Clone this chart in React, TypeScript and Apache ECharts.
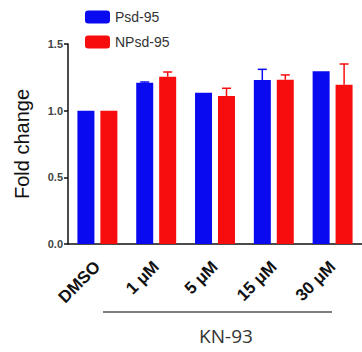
import React, { useEffect, useRef } from "react";
import * as echarts from "echarts";

const categories = ["DMSO", "1 μM", "5 μM", "15 μM", "30 μM"];
const psdValues = [1.0, 1.21, 1.135, 1.23, 1.295];
const psdErrors = [1.0, 1.215, 1.138, 1.31, 1.298];
const npsdValues = [1.0, 1.255, 1.11, 1.232, 1.195];
const npsdErrors = [1.0, 1.29, 1.168, 1.268, 1.35];
const yTicks = [0, 0.5, 1.0, 1.5];

const BLUE = "#0a0af0";
const RED = "#f70d0d";

function errorSeries(name: string, tops: number[], values: number[], color: string, offset: number) {
  return {
    type: "custom",
    name: name,
    clip: false,
    data: categories.map((c, i) => [i, values[i], tops[i]]),
    z: 1,
    renderItem: (params: any, api: any) => {
      const x = api.coord([api.value(0), 0])[0] + offset;
      const yBase = api.coord([0, api.value(1)])[1];
      const yTop = api.coord([0, api.value(2)])[1];
      if (Math.abs(yBase - yTop) < 0.5) return { type: "group", children: [] };
      return {
        type: "group",
        children: [
          { type: "line", shape: { x1: x, y1: yBase, x2: x, y2: yTop }, style: { stroke: color, lineWidth: 1.5 } },
          { type: "line", shape: { x1: x - 4.5, y1: yTop, x2: x + 4.5, y2: yTop }, style: { stroke: color, lineWidth: 1.5 } },
        ],
      };
    },
  };
}

export default function App() {
  const ref = useRef<HTMLDivElement>(null);
  useEffect(() => {
    if (!ref.current) return;
    const chart = echarts.init(ref.current, null, { renderer: "svg" });
    chart.setOption({
      animation: false,
      legend: {
        orient: "vertical",
        left: 85,
        top: 10,
        padding: 0,
        itemWidth: 25,
        itemHeight: 13,
        itemGap: 11,
        data: ["Psd-95", "NPsd-95"],
        textStyle: { fontSize: 14, color: "#333", fontFamily: "Liberation Sans" },
      },
      grid: { left: 68, top: 44, bottom: 108, right: -3 },
      xAxis: {
        type: "category",
        data: categories,
        axisLine: { lineStyle: { color: "#111", width: 1.5 } },
        axisTick: { alignWithLabel: true, length: 5, lineStyle: { color: "#111", width: 1.5 } },
        axisLabel: {
          rotate: 45,
          interval: 0,
          margin: 20,
          fontSize: 17,
          fontWeight: "bold",
          color: "#111",
        },
      },
      yAxis: {
        type: "value",
        min: 0,
        max: 1.5,
        interval: 0.5,
        name: "Fold change",
        nameLocation: "middle",
        nameGap: 36,
        nameTextStyle: { fontSize: 20, color: "#111", fontFamily: "Liberation Sans" },
        axisLine: { show: true, lineStyle: { color: "#111", width: 1.5 } },
        axisTick: { show: true, length: 4, lineStyle: { color: "#111", width: 1.5 } },
        splitLine: { show: false },
        axisLabel: {
          fontSize: 11,
          fontWeight: "bold",
          color: "#444",
          margin: 5,
          fontFamily: "Liberation Sans",
          formatter: (v: number) => (yTicks.includes(v) ? v.toFixed(1) : ""),
        },
      },
      series: [
        { type: "bar", name: "Psd-95", data: psdValues, barWidth: 17, barGap: "35%", itemStyle: { color: BLUE }, z: 2 },
        { type: "bar", name: "NPsd-95", data: npsdValues, barWidth: 17, itemStyle: { color: RED }, z: 2 },
        errorSeries("Psd-95", psdErrors, psdValues, BLUE, -11.5),
        errorSeries("NPsd-95", npsdErrors, npsdValues, RED, 11.5),
      ],
      graphic: [
        { type: "line", shape: { x1: 103, y1: 312, x2: 332, y2: 312 }, style: { stroke: "#555", lineWidth: 1.5 } },
        {
          type: "text",
          x: 226,
          y: 336,
          style: { text: "KN-93", fontSize: 19, fontFamily: "Open Sans", fill: "#333", align: "center", verticalAlign: "middle" },
        },
      ],
    });
    return () => chart.dispose();
  }, []);
  return <div ref={ref} style={{ width: 362, height: 352, position: "absolute", left: 0, top: 0 }} />;
}
